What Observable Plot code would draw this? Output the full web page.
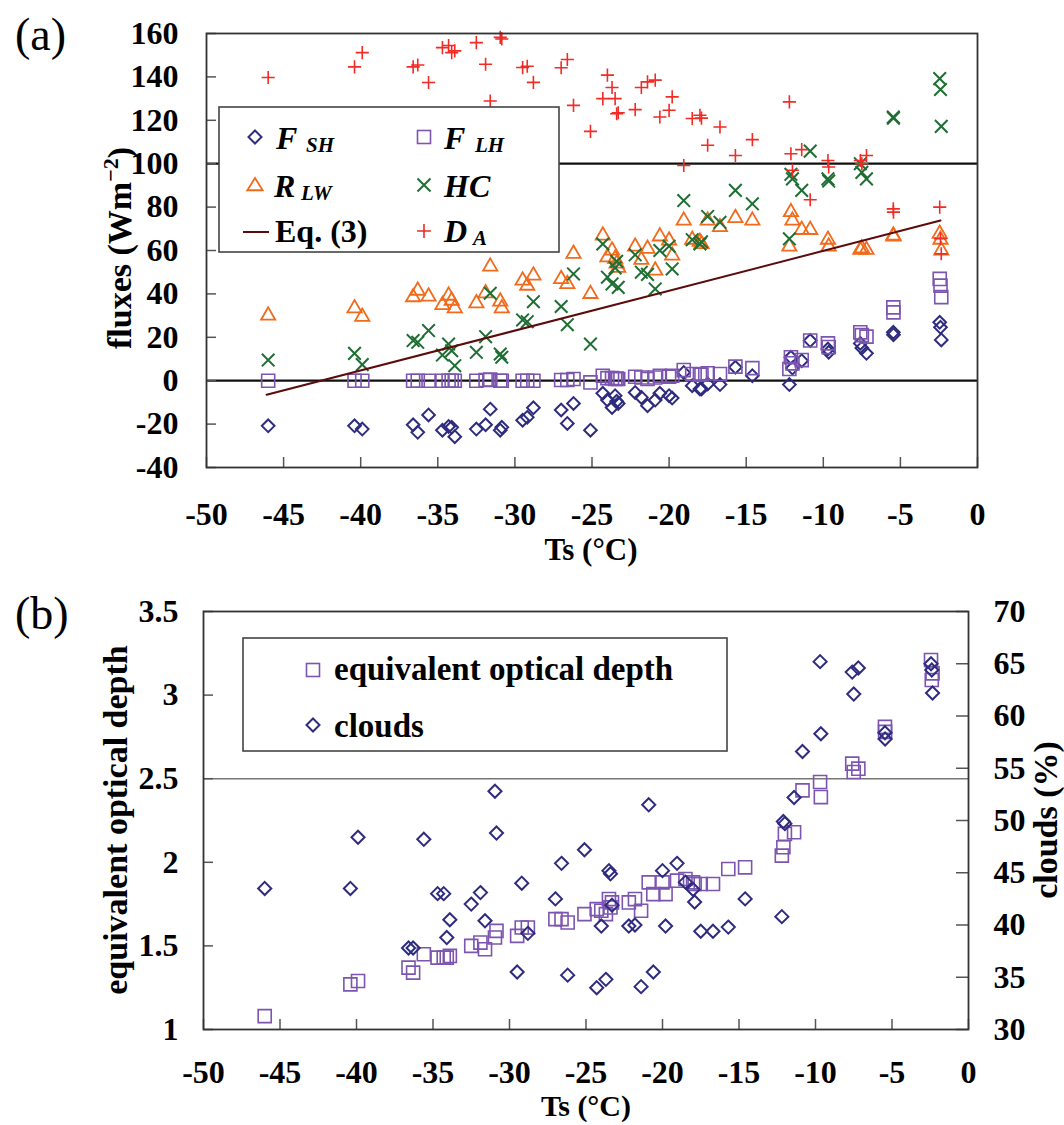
<!DOCTYPE html>
<html><head><meta charset="utf-8">
<script src="https://cdn.jsdelivr.net/npm/d3@7"></script>
<script src="https://cdn.jsdelivr.net/npm/@observablehq/plot@0.6"></script>
<style>
html,body{margin:0;padding:0;background:#fff;}
#wrap{position:relative;width:1064px;height:1125px;overflow:hidden;background:#fff;}
#wrap svg{display:block;}
#overlay{position:absolute;left:0;top:0;}
</style></head><body><div id="wrap"></div>
<script>
// ---------- data ----------
const ts   = [-46.0,-40.4,-39.9,-36.6,-36.3,-35.6,-34.7,-34.3,-34.1,-33.9,-32.5,-31.9,-31.6,-30.95,-30.85,-29.5,-29.2,-28.8,-27.0,-26.6,-26.2,-25.1,-24.3,-24.0,-23.7,-23.5,-23.4,-23.3,-22.2,-21.8,-21.4,-20.9,-20.6,-20.0,-19.8,-19.05,-18.5,-18.0,-17.9,-17.5,-16.7,-15.7,-14.6,-12.2,-12.1,-12.0,-11.4,-10.85,-9.7,-9.65,-7.6,-7.5,-7.2,-5.46,-5.45,-2.45,-2.4,-2.35];
const fsh  = [-20.8,-20.8,-22.3,-20.3,-23.8,-15.8,-22.8,-21.1,-21.5,-25.8,-22.3,-20.3,-13.1,-22.8,-21.5,-18.2,-16.9,-12.5,-13.5,-19.7,-10.5,-22.8,-5.8,-8.9,-12.3,-6.9,-9.5,-10.5,-5.4,-7.7,-11.5,-8.9,-5.8,-6.9,-8.0,3.8,-2.3,-3.8,-3.8,-1.5,-1.8,6.2,2.3,-1.8,10.8,5.8,9.2,18.5,14.6,13.1,17.2,15.1,12.6,22.3,21.2,26.9,24.6,18.8];
const flh  = [0,0,0,0,0,0,0,0,0,0,0,0.3,0.5,0,0,0,0,0,0.3,0.3,0.8,-0.8,2.3,1.2,1.2,0.8,1.0,0.8,1.8,1.5,0.8,1.5,2.3,1.8,2.3,4.9,3.1,2.8,2.8,3.4,3.1,6.5,5.8,5.4,10.8,8.0,9.5,18.5,17.2,15.5,22.3,21.0,20.3,33.8,31.5,46.9,43.8,38.5];
const rlw  = [30.0,33.4,29.5,38.5,41.5,38.8,34.9,39.2,36.9,33.4,35.7,40.3,52.6,36.5,33.4,46.2,43.8,48.5,46.9,44.6,58.5,40.0,66.9,56.9,60.0,56.2,54.0,52.0,61.8,55.7,60.8,50.8,66.5,64.6,57.7,73.8,65.0,64.0,63.0,73.8,70.8,75.0,73.8,61.8,77.7,73.8,69.5,69.5,65.0,61.8,60.3,61.0,60.3,66.9,66.5,67.7,65.0,60.0];
const hc   = [9.5,12.6,7.4,18.5,17.7,23.1,11.8,16.9,13.8,6.9,13.1,20.3,40.3,12.3,10.8,28.0,27.2,36.4,34.2,25.8,49.2,16.9,63.0,47.7,44.6,52.0,55.0,43.0,58.0,50.0,49.0,42.3,60.0,62.0,51.5,83.0,65.0,63.0,64.0,75.7,73.0,87.7,81.5,65.4,95.1,93.0,87.7,105.8,93.0,92.0,100.0,96.0,93.0,121.5,121.0,139.2,134.2,117.2];
const da   = [139.7,144.6,151.2,144.6,145.5,137.4,153.5,154.5,151.2,152.0,155.8,145.8,128.9,158.2,157.5,144.3,144.9,137.5,144.2,148.0,126.9,114.9,130.0,140.8,135.1,130.0,123.0,123.5,124.9,135.1,137.7,138.5,121.5,124.6,130.8,99.2,120.8,122.3,121.0,108.5,116.9,103.8,111.1,128.5,104.6,97.0,106.5,83.4,101.5,98.5,101.5,100.0,103.8,79.2,77.7,80.0,65.4,58.5];
const eqTs   = [-46.1,-2.4];
const eqFlux = [-6.5,73.8];
const od     = [1.08,1.27,1.29,1.37,1.34,1.45,1.43,1.43,1.43,1.44,1.50,1.52,1.48,1.55,1.59,1.56,1.61,1.61,1.66,1.66,1.64,1.69,1.72,1.71,1.69,1.78,1.73,1.76,1.76,1.78,1.71,1.88,1.81,1.88,1.81,1.89,1.90,1.88,1.87,1.87,1.87,1.96,1.97,2.04,2.09,2.17,2.18,2.43,2.48,2.39,2.59,2.54,2.56,2.81,2.78,3.21,3.09,3.13];
const clouds = [43.5,43.5,48.4,37.8,37.8,48.2,43.0,43.0,38.8,40.5,42.0,43.1,40.4,52.8,48.8,35.5,44.0,39.2,42.5,45.9,35.2,47.2,34.0,39.9,34.8,45.2,44.9,41.9,39.9,40.0,34.1,51.5,35.5,45.2,39.9,45.9,44.1,43.4,42.2,39.4,39.4,39.8,42.5,40.8,49.9,49.7,52.2,56.6,65.2,58.3,64.2,62.1,64.6,58.4,57.8,65.0,64.4,62.2];
const xTicks     = [-50,-45,-40,-35,-30,-25,-20,-15,-10,-5,0];
const yTicksA    = [-40,-20,0,20,40,60,80,100,120,140,160];
const refLinesA  = [0,100];
const yTicksB    = [1,1.5,2,2.5,3,3.5];
const cloudTicks = [30,35,40,45,50,55,60,65,70];
const refLineB   = [2.5];

// ---------- styling ----------
const SERIF = "'Liberation Serif','Times New Roman',Times,serif";
const C = {fsh:"#2e2c7e", flh:"#7c55b0", rlw:"#f26a1b", hc:"#1f6e34", eq:"#5c0a0a", da:"#f22b24", od:"#7c55b0", cl:"#2e2c7e"};
const idx = d3.range(ts.length);
const eqIdx = d3.range(eqTs.length);
// clouds (30..70 %) share the optical-depth (1..3.5) vertical scale
const toOD = c => 1 + (c - 30) * 2.5 / 40;
const fromOD = v => 30 + (v - 1) * 40 / 2.5;
const fmt = d => String(d);
const axisStyle = {fontFamily: SERIF, fontSize: "32px", fontWeight: "bold", color: "#000", background: "#fff", overflow: "visible"};

const wrap = document.getElementById("wrap");

// ---------- panel (a) ----------
const plotA = Plot.plot({
  width: 1064, height: 590,
  marginLeft: 206, marginRight: 87, marginTop: 33, marginBottom: 123,
  x: {domain: [-50, 0]},
  y: {domain: [-40, 160]},
  style: axisStyle,
  marks: [
    Plot.ruleY(refLinesA, {stroke: "#111", strokeWidth: 2.2}),
    Plot.tickY(yTicksA, {y: d => d, insetRight: 771 - 10, stroke: "#555", strokeWidth: 1.5}),
    Plot.tickX(xTicks, {x: d => d, insetTop: 434 - 10, stroke: "#555", strokeWidth: 1.5}),
    Plot.axisX({ticks: xTicks, tickSize: 0, tickPadding: 35, tickFormat: fmt, label: null}),
    Plot.axisY({ticks: yTicksA, tickSize: 0, tickPadding: 28, tickFormat: fmt, label: null}),
    Plot.dot(idx, {x: i => ts[i], y: i => fsh[i], symbol: "diamond2", r: 5.7, stroke: C.fsh, strokeWidth: 2, fill: "none"}),
    Plot.dot(idx, {x: i => ts[i], y: i => flh[i], symbol: "square2", r: 8.3, stroke: C.flh, strokeWidth: 1.6, fill: "none"}),
    Plot.dot(idx, {x: i => ts[i], y: i => rlw[i], symbol: "triangle2", r: 6.8, stroke: C.rlw, strokeWidth: 1.8, fill: "none"}),
    Plot.dot(idx, {x: i => ts[i], y: i => hc[i], symbol: "times", r: 5.8, stroke: C.hc, strokeWidth: 2, fill: "none"}),
    Plot.line(eqIdx, {x: i => eqTs[i], y: i => eqFlux[i], stroke: C.eq, strokeWidth: 2}),
    Plot.dot(idx, {x: i => ts[i], y: i => da[i], symbol: "plus", r: 4.3, stroke: C.da, strokeWidth: 1.6, fill: "none"}),
    Plot.frame({stroke: "#333", strokeWidth: 1.8})
  ]
});
wrap.appendChild(plotA);

// ---------- panel (b) ----------
const plotB = Plot.plot({
  width: 1064, height: 535,
  marginLeft: 203, marginRight: 96, marginTop: 21, marginBottom: 96,
  x: {domain: [-50, 0]},
  y: {domain: [1, 3.5]},
  style: axisStyle,
  marks: [
    Plot.ruleY(refLineB, {stroke: "#777", strokeWidth: 1.5}),
    Plot.tickY(yTicksB, {y: d => d, insetRight: 765 - 10, stroke: "#555", strokeWidth: 1.5}),
    Plot.tickY(cloudTicks.map(toOD), {y: d => d, insetLeft: 765 - 12, stroke: "#555", strokeWidth: 1.5}),
    Plot.tickX(xTicks, {x: d => d, insetTop: 418 - 10, stroke: "#555", strokeWidth: 1.5}),
    Plot.axisX({ticks: xTicks, tickSize: 0, tickPadding: 31, tickFormat: fmt, label: null}),
    Plot.axisY({ticks: yTicksB, tickSize: 0, tickPadding: 25, tickFormat: fmt, label: null}),
    Plot.axisY({anchor: "right", ticks: cloudTicks.map(toOD), tickSize: 0, tickPadding: 25, tickFormat: d => String(Math.round(fromOD(d))), label: null}),
    Plot.dot(idx, {x: i => ts[i], y: i => od[i], symbol: "square2", r: 8.3, stroke: C.od, strokeWidth: 1.6, fill: "none"}),
    Plot.dot(idx, {x: i => ts[i], y: i => toOD(clouds[i]), symbol: "diamond2", r: 5.9, stroke: C.cl, strokeWidth: 2, fill: "none"}),
    Plot.frame({stroke: "#333", strokeWidth: 1.8})
  ]
});
wrap.appendChild(plotB);

// ---------- titles, panel letters and legends ----------
const dia = (x, y, h, c) => `<path d="M${x},${y-h}L${x+h},${y}L${x},${y+h}L${x-h},${y}Z" fill="none" stroke="${c}" stroke-width="2"/>`;
const sq  = (x, y, h, c) => `<rect x="${x-h}" y="${y-h}" width="${2*h}" height="${2*h}" fill="none" stroke="${c}" stroke-width="1.6"/>`;
const tri = (x, y, h, c) => `<path d="M${x},${y-h}L${x+h*1.1},${y+h*0.75}L${x-h*1.1},${y+h*0.75}Z" fill="none" stroke="${c}" stroke-width="1.8"/>`;
const tim = (x, y, h, c) => `<path d="M${x-h},${y-h}L${x+h},${y+h}M${x-h},${y+h}L${x+h},${y-h}" stroke="${c}" stroke-width="2"/>`;
const pls = (x, y, h, c) => `<path d="M${x-h},${y}L${x+h},${y}M${x},${y-h}L${x},${y+h}" stroke="${c}" stroke-width="1.6"/>`;

const ov = `
<svg id="overlay" width="1064" height="1125" xmlns="http://www.w3.org/2000/svg" font-family="${SERIF}">
  <text x="15" y="50" font-size="46">(a)</text>
  <text x="15" y="629" font-size="46">(b)</text>

  <text transform="translate(131,248) rotate(-90)" text-anchor="middle" font-size="34" font-weight="bold">fluxes (Wm<tspan dy="-13" font-size="22">−2</tspan><tspan dy="13">)</tspan></text>
  <text x="591" y="560" text-anchor="middle" font-size="31" font-weight="bold">Ts (°C)</text>
  <text x="586" y="1116" text-anchor="middle" font-size="30" font-weight="bold">Ts (°C)</text>
  <text transform="translate(127,820) rotate(-90)" text-anchor="middle" font-size="34" font-weight="bold">equivalent optical depth</text>
  <text transform="translate(1057,820) rotate(-90)" text-anchor="middle" font-size="34" font-weight="bold">clouds (%)</text>

  <rect x="219" y="107" width="340" height="145" fill="#fff" stroke="#444" stroke-width="1.6"/>
  ${dia(255,137,6.5,C.fsh)}
  <text x="276" y="149" font-size="32" font-weight="bold" font-style="italic">F</text>
  <text x="306" y="152" font-size="21" font-weight="bold" font-style="italic">SH</text>
  ${sq(424,137,6.5,C.flh)}
  <text x="444" y="149" font-size="32" font-weight="bold" font-style="italic">F</text>
  <text x="475" y="152" font-size="21" font-weight="bold" font-style="italic">LH</text>
  ${tri(255,185,7,C.rlw)}
  <text x="274" y="197" font-size="32" font-weight="bold" font-style="italic">R</text>
  <text x="301" y="200" font-size="21" font-weight="bold" font-style="italic">LW</text>
  ${tim(424,185,6.5,C.hc)}
  <text x="444" y="197" font-size="32" font-weight="bold" font-style="italic">HC</text>
  <path d="M243,232L269,232" stroke="${C.eq}" stroke-width="2"/>
  <text x="275" y="242" font-size="32" font-weight="bold">Eq. (3)</text>
  ${pls(424,231,7,C.da)}
  <text x="444" y="242" font-size="32" font-weight="bold" font-style="italic">D</text>
  <text x="473" y="245" font-size="21" font-weight="bold" font-style="italic">A</text>

  <rect x="243" y="638" width="484" height="113" fill="#fff" stroke="#444" stroke-width="1.6"/>
  ${sq(313,670,6.5,C.od)}
  <text x="334" y="680" font-size="33" font-weight="bold">equivalent optical depth</text>
  ${dia(313,725,6.5,C.cl)}
  <text x="334" y="737" font-size="33" font-weight="bold">clouds</text>
</svg>`;
wrap.insertAdjacentHTML("beforeend", ov);
</script></body></html>
